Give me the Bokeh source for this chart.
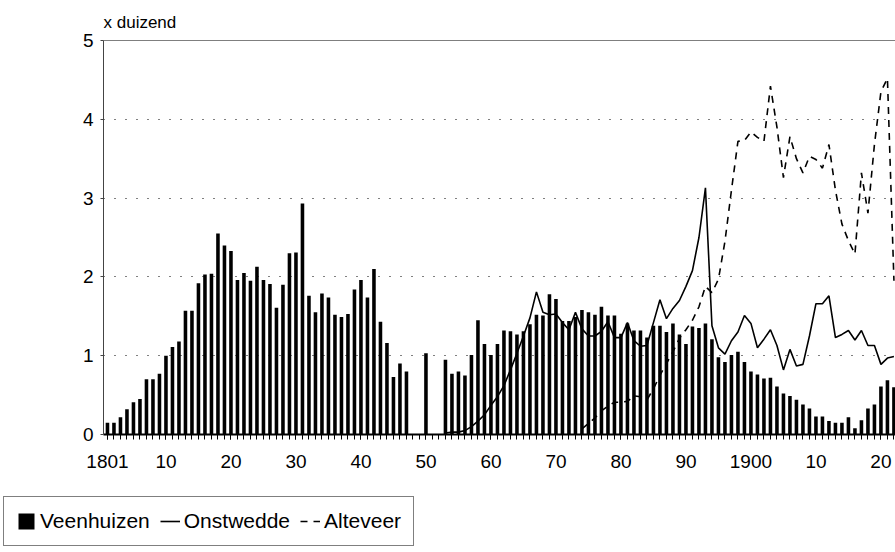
from bokeh.plotting import figure
from bokeh.layouts import column
from bokeh.models import Range1d, FixedTicker, Span, Label, Legend, LegendItem
from bokeh.embed import file_html
from bokeh.resources import INLINE

# ---- data (x duizend) ----
years_veenhuizen = list(range(1801, 1923))
veenhuizen = [
    0.15, 0.15, 0.22, 0.32, 0.41, 0.45, 0.70, 0.70, 0.77, 1.00,   # 1801-1810
    1.11, 1.18, 1.57, 1.57, 1.92, 2.03, 2.04, 2.55, 2.40, 2.33,   # 1811-1820
    1.96, 2.05, 1.95, 2.13, 1.96, 1.91, 1.61, 1.90, 2.30, 2.31,   # 1821-1830
    2.93, 1.76, 1.55, 1.79, 1.74, 1.52, 1.49, 1.53, 1.84, 1.96,   # 1831-1840
    1.74, 2.10, 1.43, 1.16, 0.73, 0.90, 0.80, 0.00, 0.00, 1.03,   # 1841-1850
    0.00, 0.00, 0.95, 0.77, 0.80, 0.75, 1.01, 1.45, 1.15, 1.01,   # 1851-1860
    1.15, 1.32, 1.31, 1.27, 1.31, 1.40, 1.52, 1.51, 1.78, 1.72,   # 1861-1870
    1.44, 1.44, 1.49, 1.58, 1.55, 1.52, 1.62, 1.51, 1.51, 1.28,   # 1871-1880
    1.41, 1.32, 1.32, 1.23, 1.38, 1.38, 1.30, 1.41, 1.27, 1.15,   # 1881-1890
    1.37, 1.35, 1.41, 1.21, 0.98, 0.92, 1.01, 1.05, 0.92, 0.80,   # 1891-1900
    0.76, 0.71, 0.72, 0.61, 0.52, 0.49, 0.44, 0.38, 0.33, 0.23,   # 1901-1910
    0.23, 0.17, 0.15, 0.15, 0.22, 0.08, 0.18, 0.33, 0.38, 0.61,   # 1911-1920
    0.69, 0.60,                                                   # 1921-1922
]

years_onstwedde = list(range(1853, 1923))
onstwedde = [
    0.02, 0.03, 0.03, 0.05, 0.10, 0.17, 0.25, 0.37,               # 1853-1860
    0.48, 0.62, 0.82, 1.03, 1.25, 1.48, 1.81, 1.55, 1.52, 1.53,   # 1861-1870
    1.42, 1.33, 1.55, 1.34, 1.25, 1.25, 1.31, 1.43, 1.23, 1.23,   # 1871-1880
    1.42, 1.19, 1.12, 1.13, 1.42, 1.71, 1.47, 1.60, 1.70, 1.88,   # 1881-1890
    2.08, 2.50, 3.13, 1.38, 1.10, 1.02, 1.19, 1.30, 1.51, 1.41,   # 1891-1900
    1.10, 1.21, 1.33, 1.13, 0.82, 1.08, 0.87, 0.89, 1.25, 1.66,   # 1901-1910
    1.66, 1.76, 1.23, 1.27, 1.32, 1.20, 1.32, 1.13, 1.13, 0.89,   # 1911-1920
    0.97, 0.99,                                                   # 1921-1922
]

years_alteveer = list(range(1874, 1923))
alteveer = [
    0.07, 0.14, 0.21, 0.30, 0.36, 0.41, 0.41,                     # 1874-1880
    0.42, 0.49, 0.48, 0.44, 0.58, 0.75, 0.90, 1.05, 1.22, 1.33,   # 1881-1890
    1.45, 1.62, 1.88, 1.80, 1.97, 2.45, 3.10, 3.72, 3.73, 3.84,   # 1891-1900
    3.77, 3.72, 4.42, 3.90, 3.26, 3.78, 3.50, 3.32, 3.53, 3.49,   # 1901-1910
    3.38, 3.68, 3.10, 2.67, 2.46, 2.29, 3.32, 2.81, 3.68, 4.35,   # 1911-1920
    4.52, 1.95,                                                   # 1921-1922
]

series_names = ["Veenhuizen", "Onstwedde", "Alteveer"]

x_ticks = [1801, 1810, 1820, 1830, 1840, 1850, 1860, 1870, 1880, 1890,
           1900, 1910, 1920]
x_tick_labels = ["1801", "10", "20", "30", "40", "50", "60", "70", "80", "90",
                 "1900", "10", "20"]
y_ticks = [0, 1, 2, 3, 4, 5]
grid_ticks = [1, 2, 3, 4]

FONT = "Liberation Sans"
X0, X1 = 1800.39, 1922.24


def draw_series(fig):
    rv = fig.vbar(x=years_veenhuizen, top=veenhuizen, width=0.55,
                  fill_color="black", line_color=None)
    ro = fig.line(years_onstwedde, onstwedde, line_color="black", line_width=1.6)
    ra = fig.line(years_alteveer, alteveer, line_color="black", line_width=1.6,
                  line_dash="7 6")
    return rv, ro, ra


# ---------------- main chart ----------------
p = figure(width=895, height=490, output_backend="svg", toolbar_location=None,
           x_range=Range1d(X0, X1), y_range=Range1d(0, 5),
           min_border_left=103, min_border_right=0, min_border_top=40,
           min_border_bottom=56)
p.frame_align = False
p.outline_line_color = None
p.background_fill_color = "white"
p.border_fill_color = "white"

p.xgrid.visible = False
p.ygrid.ticker = FixedTicker(ticks=grid_ticks)
p.ygrid.grid_line_color = "black"
p.ygrid.grid_line_width = 1.2
p.ygrid.grid_line_dash = "1 10"

p.add_layout(Span(location=5, dimension="width", line_color="black", line_width=1.2))

xa = p.xaxis[0]
xa.ticker = FixedTicker(ticks=x_ticks, minor_ticks=years_veenhuizen)
xa.major_label_overrides = {t: s for t, s in zip(x_ticks, x_tick_labels)}
xa.axis_line_color = "black"
xa.axis_line_width = 2
xa.major_tick_in = 0
xa.major_tick_out = 5
xa.minor_tick_in = 0
xa.minor_tick_out = 5
xa.major_tick_line_color = "black"
xa.minor_tick_line_color = "black"
xa.major_label_standoff = 15
xa.major_label_text_font = FONT
xa.major_label_text_font_size = "19px"
xa.major_label_text_color = "black"

ya = p.yaxis[0]
ya.ticker = FixedTicker(ticks=y_ticks)
ya.axis_line_color = "#444444"
ya.axis_line_width = 1
ya.major_tick_in = 0
ya.major_tick_out = 3
ya.minor_tick_line_color = None
ya.major_tick_line_color = "#444444"
ya.major_label_standoff = 7
ya.major_label_text_font = FONT
ya.major_label_text_font_size = "19px"
ya.major_label_text_color = "black"

draw_series(p)

p.add_layout(Label(x=X0, y=5, text="x duizend", y_offset=18,
                   text_font=FONT, text_font_size="17px",
                   text_baseline="alphabetic", text_align="left",
                   text_color="black"), "above")

# ---------------- legend strip (series kept outside its view range) ----------------
q = figure(width=895, height=62, output_backend="svg", toolbar_location=None,
           x_range=Range1d(0, 1), y_range=Range1d(0, 1),
           x_axis_location=None, y_axis_location=None, min_border=0)
q.frame_align = False
q.outline_line_color = None
q.grid.visible = False
q.background_fill_color = "white"
q.border_fill_color = "white"

k_v, k_o, k_a = draw_series(q)

# location = bottom-left corner of the legend, measured from the strip's bottom-left
legend = Legend(items=[LegendItem(label=series_names[0], renderers=[k_v]),
                       LegendItem(label=series_names[1], renderers=[k_o]),
                       LegendItem(label=series_names[2], renderers=[k_a])],
                location=(3, 6), orientation="horizontal",
                glyph_width=20, glyph_height=20, label_standoff=4,
                spacing=10, padding=12, margin=0,
                label_text_font=FONT, label_text_font_size="21px",
                label_text_color="black",
                border_line_color="black", border_line_width=1,
                background_fill_color="white", background_fill_alpha=1)
q.add_layout(legend)

open("out.html", "w").write(file_html(column(p, q, spacing=0), INLINE))
